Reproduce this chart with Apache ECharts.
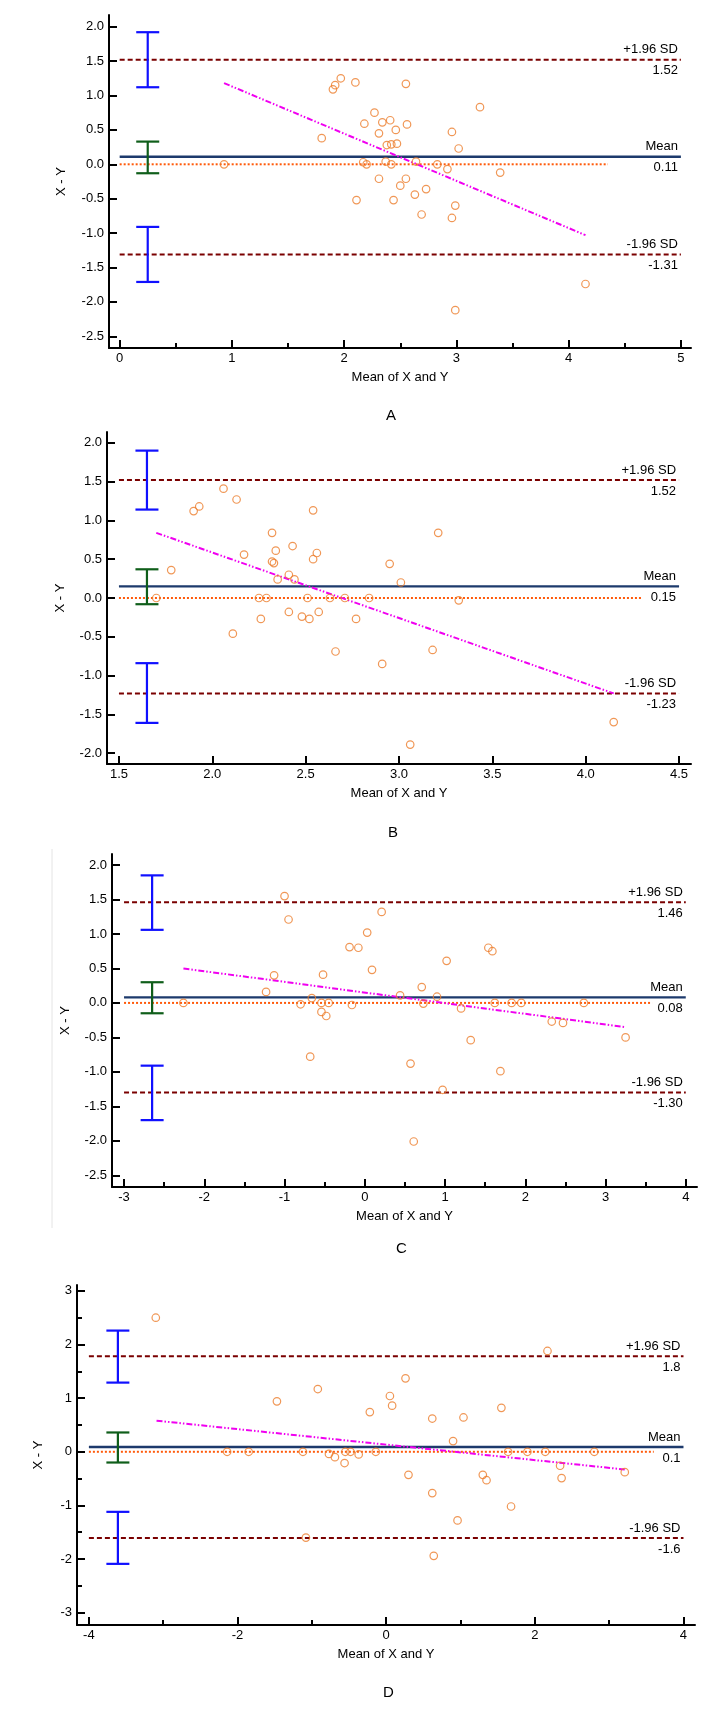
<!DOCTYPE html>
<html>
<head>
<meta charset="utf-8">
<style>
  html, body { margin: 0; padding: 0; background: #fff; }
  #chart { width: 722px; height: 1725px; }
</style>
<script src="https://cdn.jsdelivr.net/npm/echarts@6/dist/echarts.min.js"></script>
</head>
<body>
<div id="chart"></div>
<script>
// ---- A ----
var aX = [0.93, 1.80, 1.90, 1.92, 1.97, 2.10, 2.55, 2.27, 2.18, 2.34, 2.41, 2.56, 2.31, 2.46, 2.38, 2.42, 2.47, 2.96, 3.02, 3.21,
          2.17, 2.20, 2.37, 2.42, 2.64, 2.83, 2.92, 3.39, 2.31, 2.55, 2.50, 2.63, 2.73, 2.11, 2.44, 2.69, 2.96, 2.99, 2.99, 4.15];
var aY = [0.00, 0.38, 1.09, 1.15, 1.25, 1.19, 1.17, 0.75, 0.59, 0.61, 0.64, 0.58, 0.45, 0.50, 0.28, 0.29, 0.30, 0.47, 0.23, 0.83,
          0.03, 0.00, 0.04, 0.00, 0.04, 0.00, -0.07, -0.12, -0.21, -0.21, -0.31, -0.44, -0.36, -0.52, -0.52, -0.73, -0.78, -0.60, -2.12, -1.74];
var aLimits = [1.52, 0.11, -1.31];          // +1.96 SD, mean, -1.96 SD
var aLimitText = ['1.52', '0.11', '-1.31'];
var aCiX = 0.25;
var aCi = [[1.12, 1.92], [-0.13, 0.33], [-1.71, -0.91]];
var aReg = [[0.93, 1.18], [4.15, -1.03]];
var aZeroEnd = 4.35;
var aXTicks = [0, 1, 2, 3, 4, 5];
var aXMinor = [0.5, 1.5, 2.5, 3.5, 4.5];
var aYTicks = [-2.5, -2, -1.5, -1, -0.5, 0, 0.5, 1, 1.5, 2];

// ---- B ----
var bX = [1.70, 1.78, 1.90, 1.93, 2.06, 2.13, 2.54, 2.17, 2.32, 2.34, 2.43, 2.32, 2.33, 2.56, 2.54, 2.41, 2.35, 2.44, 2.95, 3.01,
          3.21, 2.25, 2.29, 2.51, 2.63, 2.71, 2.84, 3.32, 2.41, 2.57, 2.26, 2.48, 2.52, 2.77, 2.11, 2.66, 3.18, 2.91, 3.06, 4.15];
var bY = [0.00, 0.36, 1.12, 1.18, 1.41, 1.27, 1.13, 0.56, 0.84, 0.61, 0.67, 0.47, 0.45, 0.58, 0.50, 0.30, 0.24, 0.24, 0.44, 0.20,
          0.84, 0.00, 0.00, 0.00, 0.00, 0.00, 0.00, -0.03, -0.18, -0.18, -0.27, -0.24, -0.27, -0.27, -0.46, -0.69, -0.67, -0.85, -1.89, -1.60];
var bLimits = [1.52, 0.15, -1.23];
var bLimitText = ['1.52', '0.15', '-1.23'];
var bCiX = 1.65;
var bCi = [[1.14, 1.90], [-0.08, 0.37], [-1.61, -0.84]];
var bReg = [[1.70, 0.84], [4.15, -1.23]];
var bZeroEnd = 4.30;
var bXTicks = [1.5, 2, 2.5, 3, 3.5, 4, 4.5];
var bXMinor = [];
var bYTicks = [-2, -1.5, -1, -0.5, 0, 0.5, 1, 1.5, 2];

// ---- C ----
var cX = [-2.26, -1.23, -1.13, -1.00, -0.95, -0.80, -0.66, -0.68, -0.54, -0.52, -0.54, -0.48, -0.45, -0.19, -0.08, -0.16, 0.03, 0.09, 0.21, 0.44,
          0.71, 0.73, 0.90, 1.02, 0.57, 0.61, 0.97, 1.20, 1.32, 1.54, 1.59, 1.62, 1.83, 1.95, 1.69, 2.33, 2.47, 2.73, 3.25];
var cY = [0.00, 0.16, 0.40, 1.55, 1.21, -0.02, 0.07, -0.78, 0.00, 0.41, -0.13, -0.19, 0.00, 0.81, 0.80, -0.03, 1.02, 0.48, 1.32, 0.11,
          0.23, -0.01, 0.09, 0.61, -0.88, -2.01, -1.26, -0.08, -0.54, 0.80, 0.75, 0.00, 0.00, 0.00, -0.99, -0.27, -0.29, 0.00, -0.50];
var cLimits = [1.46, 0.08, -1.30];
var cLimitText = ['1.46', '0.08', '-1.30'];
var cCiX = -2.65;
var cCi = [[1.06, 1.85], [-0.15, 0.30], [-1.70, -0.91]];
var cReg = [[-2.26, 0.50], [3.24, -0.35]];
var cZeroEnd = 3.58;
var cXTicks = [-3, -2, -1, 0, 1, 2, 3, 4];
var cXMinor = [-2.5, -1.5, -0.5, 0.5, 1.5, 2.5, 3.5];
var cYTicks = [-2.5, -2, -1.5, -1, -0.5, 0, 0.5, 1, 1.5, 2];

// ---- D ----
var dX = [-3.10, -2.14, -1.85, -1.47, -1.12, -1.08, -0.92, -0.77, -0.69, -0.55, -0.56, -0.48, -0.37, -0.22, -0.14, 0.05, 0.08, 0.26, 0.30,
          0.62, 0.62, 0.64, 0.90, 0.96, 1.04, 1.30, 1.35, 1.55, 1.64, 1.68, 1.90, 2.14, 2.17, 2.34, 2.36, 2.80, 3.21];
var dY = [2.50, 0.00, 0.00, 0.94, 0.00, -1.60, 1.17, -0.04, -0.10, 0.00, -0.21, 0.00, -0.05, 0.74, 0.00, 1.04, 0.86, 1.37, -0.43,
          0.62, -0.77, -1.94, 0.20, -1.28, 0.64, -0.43, -0.53, 0.82, 0.00, -1.02, 0.00, 0.00, 1.88, -0.26, -0.49, 0.00, -0.38];
var dLimits = [1.78, 0.09, -1.61];
var dLimitText = ['1.8', '0.1', '-1.6'];
var dCiX = -3.61;
var dCi = [[1.29, 2.26], [-0.20, 0.36], [-2.09, -1.12]];
var dReg = [[-3.09, 0.58], [3.21, -0.33]];
var dZeroEnd = 3.60;
var dXTicks = [-4, -2, 0, 2, 4];
var dXMinor = [-3, -1, 1, 3];
var dYTicks = [-3, -2, -1, 0, 1, 2, 3];
var dYMinor = [-2.5, -1.5, -0.5, 0.5, 1.5, 2.5];

var limitNames = ['+1.96 SD', 'Mean', '-1.96 SD'];

var FONT = '"Liberation Sans", Arial, sans-serif';

// 每个面板的位置（像素）和坐标轴范围
var panels = [
  { letter: 'A', x: aX, y: aY, lim: aLimits, limText: aLimitText, ciX: aCiX, ci: aCi, reg: aReg, zeroEnd: aZeroEnd,
    xTicks: aXTicks, xMinor: aXMinor, yTicks: aYTicks, yMinor: [], xDec: 0, yDec: 1,
    grid: { left: 109, right: 31, top: 15, height: 333 }, xRange: [-0.095, 5.09], yRange: [-2.67, 2.17],
    yNameGap: 41, letterPos: [392, 416] },
  { letter: 'B', x: bX, y: bY, lim: bLimits, limText: bLimitText, ciX: bCiX, ci: bCi, reg: bReg, zeroEnd: bZeroEnd,
    xTicks: bXTicks, xMinor: bXMinor, yTicks: bYTicks, yMinor: [], xDec: 1, yDec: 1,
    grid: { left: 107, right: 31, top: 432, height: 332 }, xRange: [1.436, 4.564], yRange: [-2.14, 2.14],
    yNameGap: 40, letterPos: [394, 833] },
  { letter: 'C', x: cX, y: cY, lim: cLimits, limText: cLimitText, ciX: cCiX, ci: cCi, reg: cReg, zeroEnd: cZeroEnd,
    xTicks: cXTicks, xMinor: cXMinor, yTicks: cYTicks, yMinor: [], xDec: 0, yDec: 1,
    grid: { left: 112, right: 25, top: 854, height: 333 }, xRange: [-3.15, 4.14], yRange: [-2.67, 2.16],
    yNameGap: 40, letterPos: [402, 1249] },
  { letter: 'D', x: dX, y: dY, lim: dLimits, limText: dLimitText, ciX: dCiX, ci: dCi, reg: dReg, zeroEnd: dZeroEnd,
    xTicks: dXTicks, xMinor: dXMinor, yTicks: dYTicks, yMinor: dYMinor, xDec: 0, yDec: 0,
    grid: { left: 77, right: 27, top: 1285, height: 340 }, xRange: [-4.16, 4.155], yRange: [-3.23, 3.11],
    yNameGap: 32, letterPos: [389, 1693] }
];

function ciRender(color) {
  return function (params, api) {
    var hi = api.coord([api.value(0), api.value(2)]);
    var lo = api.coord([api.value(0), api.value(1)]);
    var w = 11.5;
    var st = { stroke: color, lineWidth: 2.2 };
    return {
      type: 'group',
      children: [
        { type: 'line', shape: { x1: hi[0], y1: hi[1], x2: lo[0], y2: lo[1] }, style: st },
        { type: 'line', shape: { x1: hi[0] - w, y1: hi[1], x2: hi[0] + w, y2: hi[1] }, style: st },
        { type: 'line', shape: { x1: lo[0] - w, y1: lo[1], x2: lo[0] + w, y2: lo[1] }, style: st }
      ]
    };
  };
}

// 右侧的 "+1.96 SD / 1.52" 之类文字
function limitLabelRender(names, texts) {
  return function (params, api) {
    var pt = api.coord([api.value(0), api.value(1)]);
    var k = api.value(2);
    var base = { fill: '#000', font: '13px ' + FONT, textAlign: 'right', textVerticalAlign: 'middle' };
    return {
      type: 'group',
      children: [
        { type: 'text', x: pt[0] - 3, y: pt[1] - 10, style: Object.assign({ text: names[k] }, base) },
        { type: 'text', x: pt[0] - 3, y: pt[1] + 11, style: Object.assign({ text: texts[k] }, base) }
      ]
    };
  };
}

var grids = [], xAxes = [], yAxes = [], series = [], graphics = [];

panels.forEach(function (p, i) {
  grids.push({ left: p.grid.left, right: p.grid.right, top: p.grid.top, height: p.grid.height });

  var xDec = p.xDec, yDec = p.yDec;
  xAxes.push({
    gridIndex: i, type: 'value', position: 'bottom', min: p.xRange[0], max: p.xRange[1],
    axisLine: { onZero: false, lineStyle: { color: '#000', width: 2 } },
    axisTick: { inside: true, length: 8, lineStyle: { color: '#000', width: 2 }, customValues: p.xTicks },
    axisLabel: { customValues: p.xTicks, margin: 4, color: '#000', fontSize: 13, fontFamily: FONT,
                 formatter: function (v) { return v.toFixed(xDec); } },
    splitLine: { show: false },
    name: 'Mean of X and Y', nameLocation: 'middle', nameGap: 23,
    nameTextStyle: { color: '#000', fontSize: 13, fontFamily: FONT }
  });
  xAxes.push({
    gridIndex: i, type: 'value', position: 'bottom', min: p.xRange[0], max: p.xRange[1],
    axisLine: { show: false, onZero: false }, axisLabel: { show: false }, splitLine: { show: false },
    axisTick: { show: p.xMinor.length > 0, inside: true, length: 5, lineStyle: { color: '#000', width: 2 },
                customValues: p.xMinor.length ? p.xMinor : [0] }
  });
  yAxes.push({
    gridIndex: i, type: 'value', position: 'left', min: p.yRange[0], max: p.yRange[1],
    axisLine: { show: true, onZero: false, lineStyle: { color: '#000', width: 2 } },
    axisTick: { show: true, inside: true, length: 8, lineStyle: { color: '#000', width: 2 }, customValues: p.yTicks },
    axisLabel: { customValues: p.yTicks, margin: 5, color: '#000', fontSize: 13, fontFamily: FONT,
                 formatter: function (v) { return v.toFixed(yDec); } },
    splitLine: { show: false },
    name: 'X - Y', nameLocation: 'middle', nameGap: p.yNameGap,
    nameTextStyle: { color: '#000', fontSize: 13, fontFamily: FONT }
  });
  yAxes.push({
    gridIndex: i, type: 'value', position: 'left', min: p.yRange[0], max: p.yRange[1],
    axisLine: { show: false, onZero: false }, axisLabel: { show: false }, splitLine: { show: false },
    axisTick: { show: p.yMinor.length > 0, inside: true, length: 5, lineStyle: { color: '#000', width: 2 },
                customValues: p.yMinor.length ? p.yMinor : [0] }
  });

  var xi = 2 * i, yi = 2 * i;
  var x0 = p.xTicks[0], x1 = p.xTicks[p.xTicks.length - 1];

  // 零线（橙色点线）
  series.push({
    type: 'line', xAxisIndex: xi, yAxisIndex: yi, symbol: 'none', silent: true, z: 2,
    data: [[x0, 0], [p.zeroEnd, 0]],
    lineStyle: { color: '#ff5a0a', width: 2, type: [2, 2] }
  });
  // +1.96 SD / -1.96 SD
  [0, 2].forEach(function (k) {
    series.push({
      type: 'line', xAxisIndex: xi, yAxisIndex: yi, symbol: 'none', silent: true, z: 3,
      data: [[x0, p.lim[k]], [x1, p.lim[k]]],
      lineStyle: { color: '#7a0000', width: 2, type: [5, 3] }
    });
  });
  // 均值
  series.push({
    type: 'line', xAxisIndex: xi, yAxisIndex: yi, symbol: 'none', silent: true, z: 3,
    data: [[x0, p.lim[1]], [x1, p.lim[1]]],
    lineStyle: { color: '#1d3a6c', width: 2.4 }
  });
  // 回归线
  series.push({
    type: 'line', xAxisIndex: xi, yAxisIndex: yi, symbol: 'none', silent: true, z: 4,
    data: p.reg,
    lineStyle: { color: '#f000f0', width: 2, type: [6, 2, 1.5, 2, 1.5, 2] }
  });
  // 置信区间
  series.push({
    type: 'custom', xAxisIndex: xi, yAxisIndex: yi, silent: true, z: 5,
    renderItem: ciRender('#1010ff'),
    data: [[p.ciX, p.ci[0][0], p.ci[0][1]], [p.ciX, p.ci[2][0], p.ci[2][1]]]
  });
  series.push({
    type: 'custom', xAxisIndex: xi, yAxisIndex: yi, silent: true, z: 5,
    renderItem: ciRender('#0f5e1a'),
    data: [[p.ciX, p.ci[1][0], p.ci[1][1]]]
  });
  // 散点
  series.push({
    type: 'scatter', xAxisIndex: xi, yAxisIndex: yi, silent: true, z: 6,
    symbol: 'circle', symbolSize: 7.5,
    itemStyle: { color: 'rgba(0,0,0,0)', borderColor: '#ec7d2c', borderWidth: 1.2 },
    data: p.x.map(function (v, j) { return [v, p.y[j]]; })
  });
  // 右侧文字
  series.push({
    type: 'custom', xAxisIndex: xi, yAxisIndex: yi, silent: true, z: 7,
    renderItem: limitLabelRender(limitNames, p.limText),
    data: p.lim.map(function (v, k) { return [x1, v, k]; })
  });

  graphics.push({
    type: 'text', left: p.letterPos[0] - 6, top: p.letterPos[1] - 8,
    style: { text: p.letter, fill: '#000', font: '15px ' + FONT }
  });
});

// C 左侧的浅灰竖线
graphics.push({
  type: 'line', shape: { x1: 52, y1: 849, x2: 52, y2: 1228 },
  style: { stroke: '#e4e4e4', lineWidth: 1 }
});

var chart = echarts.init(document.getElementById('chart'), null, { renderer: 'canvas' });
chart.setOption({
  backgroundColor: '#fff',
  animation: false,
  grid: grids,
  xAxis: xAxes,
  yAxis: yAxes,
  series: series,
  graphic: graphics
});
</script>
</body>
</html>
